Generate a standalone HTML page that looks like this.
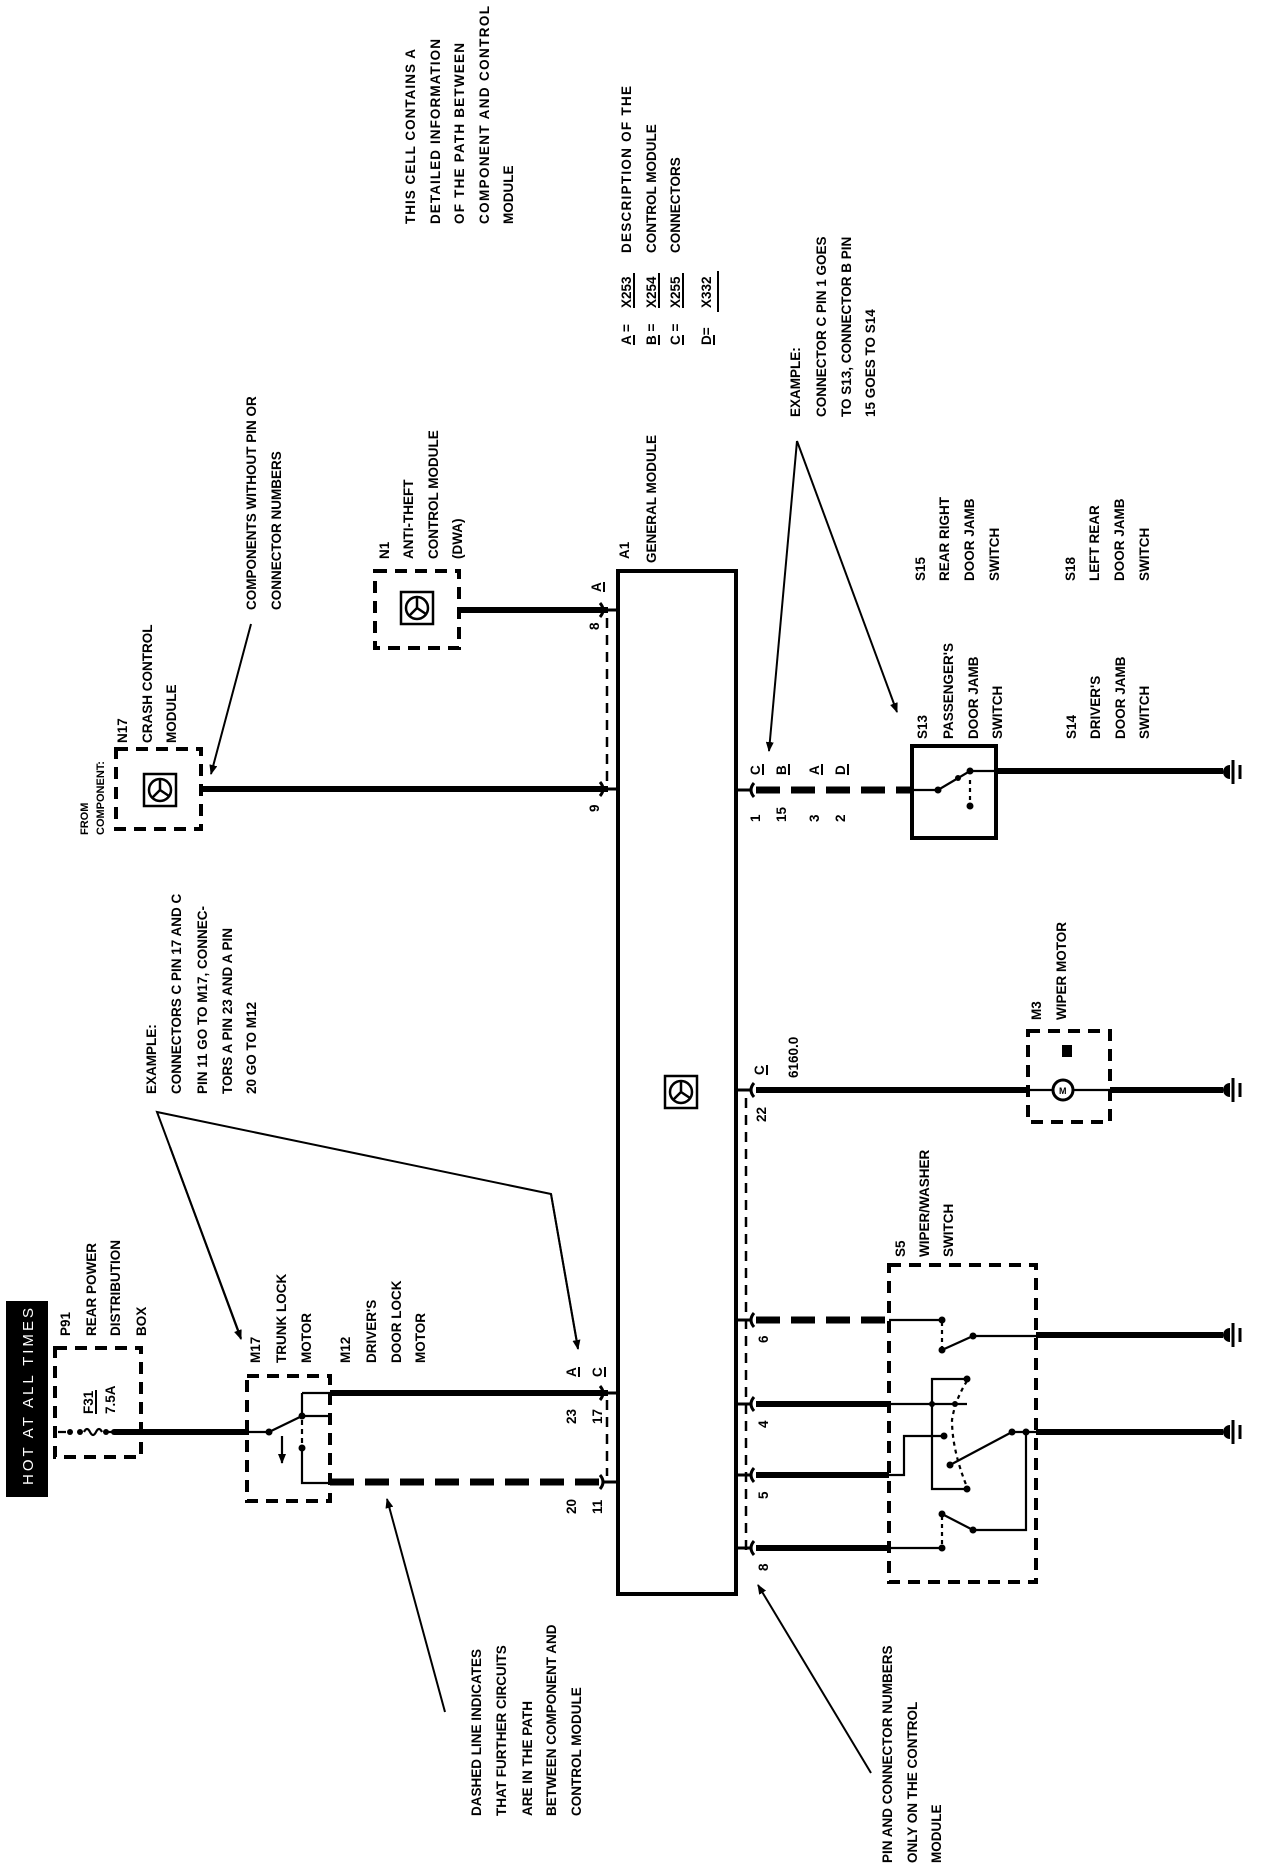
<!DOCTYPE html>
<html><head><meta charset="utf-8">
<style>
html,body{margin:0;padding:0;background:#fff;}
svg{display:block;}
text{font-family:"Liberation Sans",Arial,sans-serif;font-weight:bold;font-size:13.5px;fill:#000;}
.sm{font-size:11px;}
.hot{fill:#fff;font-weight:normal;font-size:15px;}
.th{stroke:#000;stroke-width:6;fill:none;}
.tn{stroke:#000;stroke-width:2.2;fill:none;}
.db{stroke:#000;stroke-width:4;fill:none;stroke-dasharray:12 8;}
.dv{stroke:#000;stroke-width:2.5;fill:none;stroke-dasharray:10 7;}
.dw{stroke:#000;stroke-width:7;fill:none;stroke-dasharray:24 11;}
.ar{stroke:#000;stroke-width:2;fill:none;}
</style></head>
<body>
<svg width="1264" height="1868" viewBox="0 0 1264 1868" xmlns="http://www.w3.org/2000/svg">
<defs>
<marker id="ah" markerWidth="10" markerHeight="8" refX="9" refY="4" orient="auto" markerUnits="userSpaceOnUse">
<path d="M0,0 L10,4 L0,8 Z" fill="#000"/></marker>
<g id="gnd"><path d="M7,-7 A7,7 0 0,0 7,7 Z" fill="#000"/><line x1="10" y1="-12" x2="10" y2="12" stroke="#000" stroke-width="3"/><line x1="17" y1="-7" x2="17" y2="7" stroke="#000" stroke-width="3"/></g>
<g id="icon"><rect x="-16" y="-16" width="32" height="32" fill="#fff" stroke="#000" stroke-width="2.5"/><circle cx="0" cy="0" r="11" fill="none" stroke="#000" stroke-width="2.5"/><path d="M0,-11 L0,0 L-8,8 M0,0 L9,6" stroke="#000" stroke-width="2.5" fill="none"/></g>
<g id="pl"><path d="M-7,-7 Q-1,0 -7,7" stroke="#000" stroke-width="3" fill="none"/><line x1="-3" y1="0" x2="11" y2="0" stroke="#000" stroke-width="3"/></g>
<g id="pr"><path d="M7,-7 Q1,0 7,7" stroke="#000" stroke-width="3" fill="none"/><line x1="3" y1="0" x2="-11" y2="0" stroke="#000" stroke-width="3"/></g>
</defs>

<!-- module A1 -->
<rect x="618" y="571" width="118" height="1023" fill="none" stroke="#000" stroke-width="4"/>
<use href="#icon" x="681" y="1092"/>

<!-- top notes -->
<g>
<text transform="translate(415,224) rotate(-90)" textLength="175">THIS CELL CONTAINS A</text>
<text transform="translate(440,224) rotate(-90)" textLength="185">DETAILED INFORMATION</text>
<text transform="translate(464,224) rotate(-90)" textLength="181">OF THE PATH BETWEEN</text>
<text transform="translate(489,224) rotate(-90)" textLength="218">COMPONENT AND CONTROL</text>
<text transform="translate(513,224) rotate(-90)">MODULE</text>

<text transform="translate(631,253) rotate(-90)" textLength="167">DESCRIPTION OF THE</text>
<text transform="translate(656,253) rotate(-90)">CONTROL MODULE</text>
<text transform="translate(680,253) rotate(-90)">CONNECTORS</text>

<text transform="translate(631,345) rotate(-90)">A =</text><text transform="translate(631,308) rotate(-90)">X253</text>
<text transform="translate(656,345) rotate(-90)">B =</text><text transform="translate(656,308) rotate(-90)">X254</text>
<text transform="translate(680,345) rotate(-90)">C =</text><text transform="translate(680,308) rotate(-90)">X255</text>
<text transform="translate(711,345) rotate(-90)">D=</text><text transform="translate(711,308) rotate(-90)">X332</text>
<path d="M634,345 V335 M634,308 V273 M659,345 V335 M659,308 V273 M683,345 V335 M683,308 V273 M714,345 V335 M718,312 V271" stroke="#000" stroke-width="2"/>

<text transform="translate(256,610) rotate(-90)">COMPONENTS WITHOUT PIN OR</text>
<text transform="translate(281,610) rotate(-90)">CONNECTOR NUMBERS</text>

<text transform="translate(389,559) rotate(-90)">N1</text>
<text transform="translate(413,559) rotate(-90)">ANTI-THEFT</text>
<text transform="translate(438,559) rotate(-90)">CONTROL MODULE</text>
<text transform="translate(462,559) rotate(-90)">(DWA)</text>

<text transform="translate(629,559) rotate(-90)">A1</text>
<text transform="translate(656,563) rotate(-90)">GENERAL MODULE</text>

<text transform="translate(800,417) rotate(-90)">EXAMPLE:</text>
<text transform="translate(826,417) rotate(-90)">CONNECTOR C PIN 1 GOES</text>
<text transform="translate(851,417) rotate(-90)">TO S13, CONNECTOR B PIN</text>
<text transform="translate(875,417) rotate(-90)">15 GOES TO S14</text>

<text transform="translate(925,581) rotate(-90)">S15</text>
<text transform="translate(949,581) rotate(-90)">REAR RIGHT</text>
<text transform="translate(974,581) rotate(-90)">DOOR JAMB</text>
<text transform="translate(999,581) rotate(-90)">SWITCH</text>
<text transform="translate(1075,581) rotate(-90)">S18</text>
<text transform="translate(1099,581) rotate(-90)">LEFT REAR</text>
<text transform="translate(1124,581) rotate(-90)">DOOR JAMB</text>
<text transform="translate(1149,581) rotate(-90)">SWITCH</text>

<text transform="translate(927,739) rotate(-90)">S13</text>
<text transform="translate(953,739) rotate(-90)">PASSENGER'S</text>
<text transform="translate(978,739) rotate(-90)">DOOR JAMB</text>
<text transform="translate(1002,739) rotate(-90)">SWITCH</text>
<text transform="translate(1076,739) rotate(-90)">S14</text>
<text transform="translate(1100,739) rotate(-90)">DRIVER'S</text>
<text transform="translate(1125,739) rotate(-90)">DOOR JAMB</text>
<text transform="translate(1149,739) rotate(-90)">SWITCH</text>
</g>

<!-- N1 -->
<rect x="375" y="571" width="84" height="77" class="db"/>
<use href="#icon" x="417" y="608"/>
<line x1="459" y1="610" x2="608" y2="610" class="th"/>
<use href="#pl" x="607" y="610"/>
<text transform="translate(601,592) rotate(-90)">A</text><line x1="604" y1="592" x2="604" y2="582" stroke="#000" stroke-width="2"/>
<text transform="translate(599,630) rotate(-90)">8</text>
<line x1="607" y1="618" x2="607" y2="782" class="dv"/>

<!-- N17 -->
<text class="sm" transform="translate(88,835) rotate(-90)">FROM</text>
<text class="sm" transform="translate(104,835) rotate(-90)">COMPONENT:</text>
<text transform="translate(127,743) rotate(-90)">N17</text>
<text transform="translate(152,743) rotate(-90)">CRASH CONTROL</text>
<text transform="translate(176,743) rotate(-90)">MODULE</text>
<rect x="116" y="749" width="85" height="80" class="db"/>
<use href="#icon" x="160" y="790"/>
<line x1="201" y1="789" x2="608" y2="789" class="th"/>
<use href="#pl" x="607" y="789"/>
<text transform="translate(599,812) rotate(-90)">9</text>
<line x1="251" y1="624" x2="211" y2="774" class="ar" marker-end="url(#ah)"/>

<!-- left example -->
<text transform="translate(156,1094) rotate(-90)">EXAMPLE:</text>
<text transform="translate(181,1094) rotate(-90)">CONNECTORS C PIN 17 AND C</text>
<text transform="translate(207,1094) rotate(-90)">PIN 11 GO TO M17, CONNEC-</text>
<text transform="translate(232,1094) rotate(-90)">TORS A PIN 23 AND A PIN</text>
<text transform="translate(256,1094) rotate(-90)">20 GO TO M12</text>
<polyline points="241,1338 157,1112 551,1194 578,1348" class="ar"/>
<line x1="170" y1="1147" x2="241" y2="1339" class="ar" marker-end="url(#ah)"/>
<line x1="551" y1="1194" x2="578" y2="1349" class="ar" marker-end="url(#ah)"/>

<!-- HOT -->
<rect x="6" y="1301" width="42" height="196" fill="#000"/>
<text class="hot" transform="translate(33,1485) rotate(-90)" textLength="177" lengthAdjust="spacing">HOT AT ALL TIMES</text>
<text transform="translate(70,1336) rotate(-90)">P91</text>
<text transform="translate(96,1336) rotate(-90)">REAR POWER</text>
<text transform="translate(120,1336) rotate(-90)">DISTRIBUTION</text>
<text transform="translate(146,1336) rotate(-90)">BOX</text>
<rect x="55" y="1348" width="86" height="109" class="db"/>
<text transform="translate(93,1414) rotate(-90)">F31</text>
<line x1="96" y1="1414" x2="96" y2="1390" stroke="#000" stroke-width="2"/>
<text transform="translate(115,1414) rotate(-90)">7.5A</text>
<path d="M58,1432 H66 M84,1432 q3,-6 6,0 q3,6 6,0 q3,-6 6,0 M108,1432 H118" class="tn"/>
<circle cx="70" cy="1432" r="3" fill="#000"/><circle cx="80" cy="1432" r="3" fill="#000"/>
<circle cx="106" cy="1432" r="3" fill="#000"/><circle cx="114" cy="1432" r="3" fill="#000"/>
<line x1="114" y1="1432" x2="249" y2="1432" class="th"/>

<!-- M17 / M12 -->
<text transform="translate(260,1363) rotate(-90)">M17</text>
<text transform="translate(286,1363) rotate(-90)">TRUNK LOCK</text>
<text transform="translate(311,1363) rotate(-90)">MOTOR</text>
<text transform="translate(350,1363) rotate(-90)">M12</text>
<text transform="translate(376,1363) rotate(-90)">DRIVER'S</text>
<text transform="translate(401,1363) rotate(-90)">DOOR LOCK</text>
<text transform="translate(425,1363) rotate(-90)">MOTOR</text>
<rect x="247" y="1376" width="83" height="125" class="db"/>
<path d="M249,1432 H269 L302,1416 M302,1393 V1416 H330 M302,1393 H330 M302,1448 V1483 H330" class="tn"/>
<line x1="302" y1="1420" x2="302" y2="1446" class="tn" stroke-dasharray="5 4"/>
<circle cx="269" cy="1432" r="3.5" fill="#000"/><circle cx="302" cy="1416" r="3.5" fill="#000"/><circle cx="302" cy="1448" r="3.5" fill="#000"/>
<line x1="282" y1="1436" x2="282" y2="1463" class="tn" marker-end="url(#ah)"/>
<line x1="330" y1="1393" x2="608" y2="1393" class="th"/>
<line x1="330" y1="1482" x2="604" y2="1482" class="dw"/>
<use href="#pl" x="607" y="1393"/><use href="#pl" x="607" y="1482"/>
<line x1="607" y1="1400" x2="607" y2="1476" class="dv"/>
<text transform="translate(576,1377) rotate(-90)">A</text>
<text transform="translate(602,1377) rotate(-90)">C</text>
<path d="M579,1377 V1367 M605,1377 V1367" stroke="#000" stroke-width="2"/>
<text transform="translate(576,1424) rotate(-90)">23</text>
<text transform="translate(602,1424) rotate(-90)">17</text>
<text transform="translate(576,1514) rotate(-90)">20</text>
<text transform="translate(602,1514) rotate(-90)">11</text>

<text transform="translate(481,1816) rotate(-90)">DASHED LINE INDICATES</text>
<text transform="translate(506,1816) rotate(-90)">THAT FURTHER CIRCUITS</text>
<text transform="translate(532,1816) rotate(-90)">ARE IN THE PATH</text>
<text transform="translate(556,1816) rotate(-90)">BETWEEN COMPONENT AND</text>
<text transform="translate(581,1816) rotate(-90)">CONTROL MODULE</text>
<line x1="445" y1="1712" x2="387" y2="1499" class="ar" marker-end="url(#ah)"/>

<!-- right example arrows -->
<line x1="797" y1="441" x2="769" y2="751" class="ar" marker-end="url(#ah)"/>
<line x1="797" y1="441" x2="897" y2="712" class="ar" marker-end="url(#ah)"/>

<!-- S13 -->
<use href="#pr" x="747" y="790"/>
<line x1="756" y1="790" x2="912" y2="790" class="dw"/>
<text transform="translate(760,775) rotate(-90)">C</text>
<text transform="translate(786,775) rotate(-90)">B</text>
<text transform="translate(819,775) rotate(-90)">A</text>
<text transform="translate(845,775) rotate(-90)">D</text>
<path d="M763,775 V764 M789,775 V764 M822,775 V764 M848,775 V764" stroke="#000" stroke-width="2"/>
<text transform="translate(760,822) rotate(-90)">1</text>
<text transform="translate(786,822) rotate(-90)">15</text>
<text transform="translate(819,822) rotate(-90)">3</text>
<text transform="translate(845,822) rotate(-90)">2</text>
<rect x="912" y="746" width="84" height="92" fill="none" stroke="#000" stroke-width="4"/>
<path d="M912,790 H938 L970,771 H996" class="tn"/>
<line x1="970" y1="780" x2="970" y2="802" class="tn" stroke-dasharray="4 4"/>
<circle cx="938" cy="790" r="3.5" fill="#000"/><circle cx="958" cy="778" r="3" fill="#000"/><circle cx="970" cy="771" r="3.5" fill="#000"/><circle cx="970" cy="806" r="3.5" fill="#000"/>
<line x1="996" y1="771" x2="1223" y2="771" class="th"/>
<use href="#gnd" x="1223" y="772"/>

<!-- M3 -->
<text transform="translate(1041,1020) rotate(-90)">M3</text>
<text transform="translate(1066,1020) rotate(-90)">WIPER MOTOR</text>
<use href="#pr" x="747" y="1090"/>
<text transform="translate(764,1075) rotate(-90)">C</text>
<line x1="767" y1="1075" x2="767" y2="1065" stroke="#000" stroke-width="2"/>
<text transform="translate(798,1078) rotate(-90)">6160.0</text>
<text transform="translate(766,1122) rotate(-90)">22</text>
<line x1="756" y1="1090" x2="1028" y2="1090" class="th"/>
<rect x="1028" y="1031" width="82" height="91" class="db"/>
<rect x="1062" y="1045" width="10" height="12" fill="#000"/>
<path d="M1028,1090 H1053 M1073,1090 H1110" class="tn"/>
<circle cx="1063" cy="1090" r="10" fill="#fff" stroke="#000" stroke-width="3"/>
<text x="1059" y="1094" style="font-size:9px">M</text>
<line x1="1110" y1="1090" x2="1223" y2="1090" class="th"/>
<use href="#gnd" x="1223" y="1090"/>

<!-- S5 -->
<line x1="746" y1="1098" x2="746" y2="1555" class="dv"/>
<text transform="translate(905,1257) rotate(-90)">S5</text>
<text transform="translate(929,1257) rotate(-90)">WIPER/WASHER</text>
<text transform="translate(953,1257) rotate(-90)">SWITCH</text>
<rect x="889" y="1265" width="147" height="317" class="db"/>
<use href="#pr" x="747" y="1320"/><use href="#pr" x="747" y="1404"/><use href="#pr" x="747" y="1475"/><use href="#pr" x="747" y="1548"/>
<line x1="756" y1="1320" x2="889" y2="1320" class="dw"/>
<line x1="756" y1="1404" x2="889" y2="1404" class="th"/>
<line x1="756" y1="1475" x2="889" y2="1475" class="th"/>
<line x1="756" y1="1548" x2="889" y2="1548" class="th"/>
<text transform="translate(768,1343) rotate(-90)">6</text>
<text transform="translate(768,1428) rotate(-90)">4</text>
<text transform="translate(768,1499) rotate(-90)">5</text>
<text transform="translate(768,1571) rotate(-90)">8</text>
<!-- switch internals -->
<path d="M889,1320 H942 M942,1350 L973,1336 H1036 M889,1404 H967 M932,1404 V1379 H967 M932,1404 V1489 H967 M889,1475 H904 V1436 H944 M889,1548 H942 M942,1514 L973,1530 H1026 V1432 M950,1465 L1012,1432 H1036" class="tn"/>
<path d="M942,1322 V1348 M967,1381 Q955,1400 952,1420 Q952,1450 967,1487 M942,1516 V1546" class="tn" stroke-dasharray="4 4"/>
<circle cx="942" cy="1320" r="3.5" fill="#000"/><circle cx="942" cy="1350" r="3.5" fill="#000"/><circle cx="973" cy="1336" r="3.5" fill="#000"/>
<circle cx="967" cy="1379" r="3.5" fill="#000"/><circle cx="932" cy="1404" r="3" fill="#000"/><circle cx="955" cy="1404" r="3" fill="#000"/><circle cx="944" cy="1436" r="3.5" fill="#000"/>
<circle cx="950" cy="1465" r="3.5" fill="#000"/><circle cx="967" cy="1489" r="3.5" fill="#000"/><circle cx="1012" cy="1432" r="3.5" fill="#000"/><circle cx="1026" cy="1432" r="3.5" fill="#000"/>
<circle cx="942" cy="1514" r="3.5" fill="#000"/><circle cx="973" cy="1530" r="3.5" fill="#000"/><circle cx="942" cy="1548" r="3.5" fill="#000"/>
<line x1="1036" y1="1335" x2="1223" y2="1335" class="th"/>
<line x1="1036" y1="1432" x2="1223" y2="1432" class="th"/>
<use href="#gnd" x="1223" y="1335"/><use href="#gnd" x="1223" y="1432"/>

<text transform="translate(892,1863) rotate(-90)">PIN AND CONNECTOR NUMBERS</text>
<text transform="translate(917,1863) rotate(-90)">ONLY ON THE CONTROL</text>
<text transform="translate(941,1863) rotate(-90)">MODULE</text>
<line x1="871" y1="1773" x2="758" y2="1585" class="ar" marker-end="url(#ah)"/>
</svg>
</body></html>
